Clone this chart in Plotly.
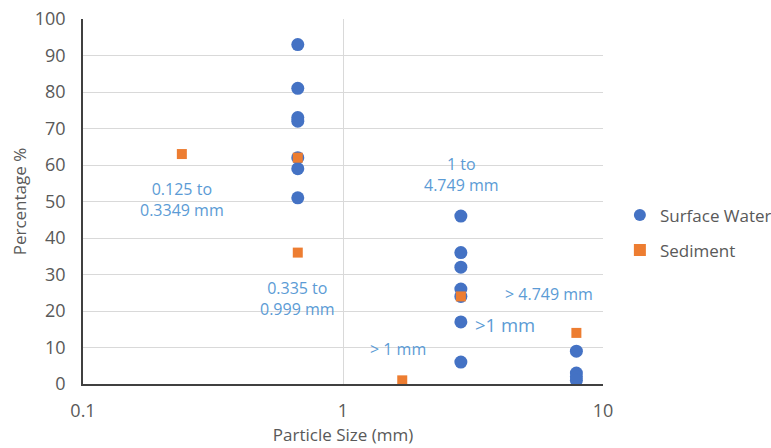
import plotly.graph_objects as go

# Particle size (mm) and percentage for each sample
surface_size = [0.67, 0.67, 0.67, 0.67, 0.67, 0.67, 0.67,
                2.84, 2.84, 2.84, 2.84, 2.84, 2.84, 2.84,
                7.9, 7.9, 7.9, 7.9]
surface_pct = [93, 81, 73, 72, 62, 59, 51,
               46, 36, 32, 26, 24, 17, 6,
               9, 3, 2, 1]

sediment_size = [0.24, 0.67, 0.67, 1.69, 2.84, 7.9]
sediment_pct = [63, 62, 36, 1, 24, 14]

x_ticks = [0.1, 1, 10]
x_tick_labels = ["0.1", "1", "10"]
y_ticks = list(range(0, 101, 10))

# Size-class labels: (text, paper x, paper y, font size)
class_labels = [
    ("0.125 to<br>0.3349 mm", 0.19, 0.506, 16),
    ("0.335 to<br>0.999 mm", 0.412, 0.235, 16),
    ("1 to<br>4.749 mm", 0.728, 0.573, 16),
    ("> 4.749 mm", 0.896, 0.247, 16),
    (">1 mm", 0.812, 0.164, 18.5),
    ("> 1 mm", 0.606, 0.096, 16),
]

FONT = "Open Sans, Lato, sans-serif"
GREY = "#595959"

fig = go.Figure()
fig.add_trace(go.Scatter(
    x=surface_size, y=surface_pct, mode="markers", name="Surface Water",
    legendgroup="water",
    marker=dict(symbol="circle", size=13, color="#4472C4"),
))
fig.add_trace(go.Scatter(
    x=sediment_size, y=sediment_pct, mode="markers", name="Sediment",
    legendgroup="sediment",
    marker=dict(symbol="square", size=10, color="#ED7D31"),
))

for text, px, py, fs in class_labels:
    fig.add_annotation(
        x=px, y=py, xref="paper", yref="paper", text=text, showarrow=False,
        xanchor="center", yanchor="middle",
        font=dict(family=FONT, size=fs, color="#5B9BD5"), align="center",
    )

fig.update_layout(
    width=771, height=448,
    margin=dict(l=83, r=168, t=19, b=64, autoexpand=False),
    paper_bgcolor="white", plot_bgcolor="white",
    font=dict(family=FONT, color=GREY),
    showlegend=True,
    legend=dict(
        xref="container", yref="container", x=0.804, y=0.48,
        xanchor="left", yanchor="middle",
        font=dict(family=FONT, size=17, color=GREY),
        tracegroupgap=10, itemsizing="constant", itemwidth=30,
    ),
    xaxis=dict(
        type="log", range=[-1, 1], tickvals=x_ticks, ticktext=x_tick_labels,
        showgrid=True, gridcolor="#D9D9D9", gridwidth=1,
        showline=True, linecolor="#404040", linewidth=1.5,
        ticks="", ticklabelstandoff=10, tickfont=dict(family=FONT, size=18, color=GREY),
        title=dict(text="Particle Size (mm)", font=dict(family=FONT, size=17, color=GREY), standoff=8),
        zeroline=False,
    ),
    yaxis=dict(
        range=[0, 100], tickvals=y_ticks,
        showgrid=True, gridcolor="#D9D9D9", gridwidth=1,
        showline=True, linecolor="#404040", linewidth=1.5,
        ticks="", ticklabelstandoff=12, tickfont=dict(family=FONT, size=18, color=GREY),
        title=dict(text="Percentage %", font=dict(family=FONT, size=17, color=GREY), standoff=4),
        zeroline=False,
    ),
)

fig.write_html("out.html")
